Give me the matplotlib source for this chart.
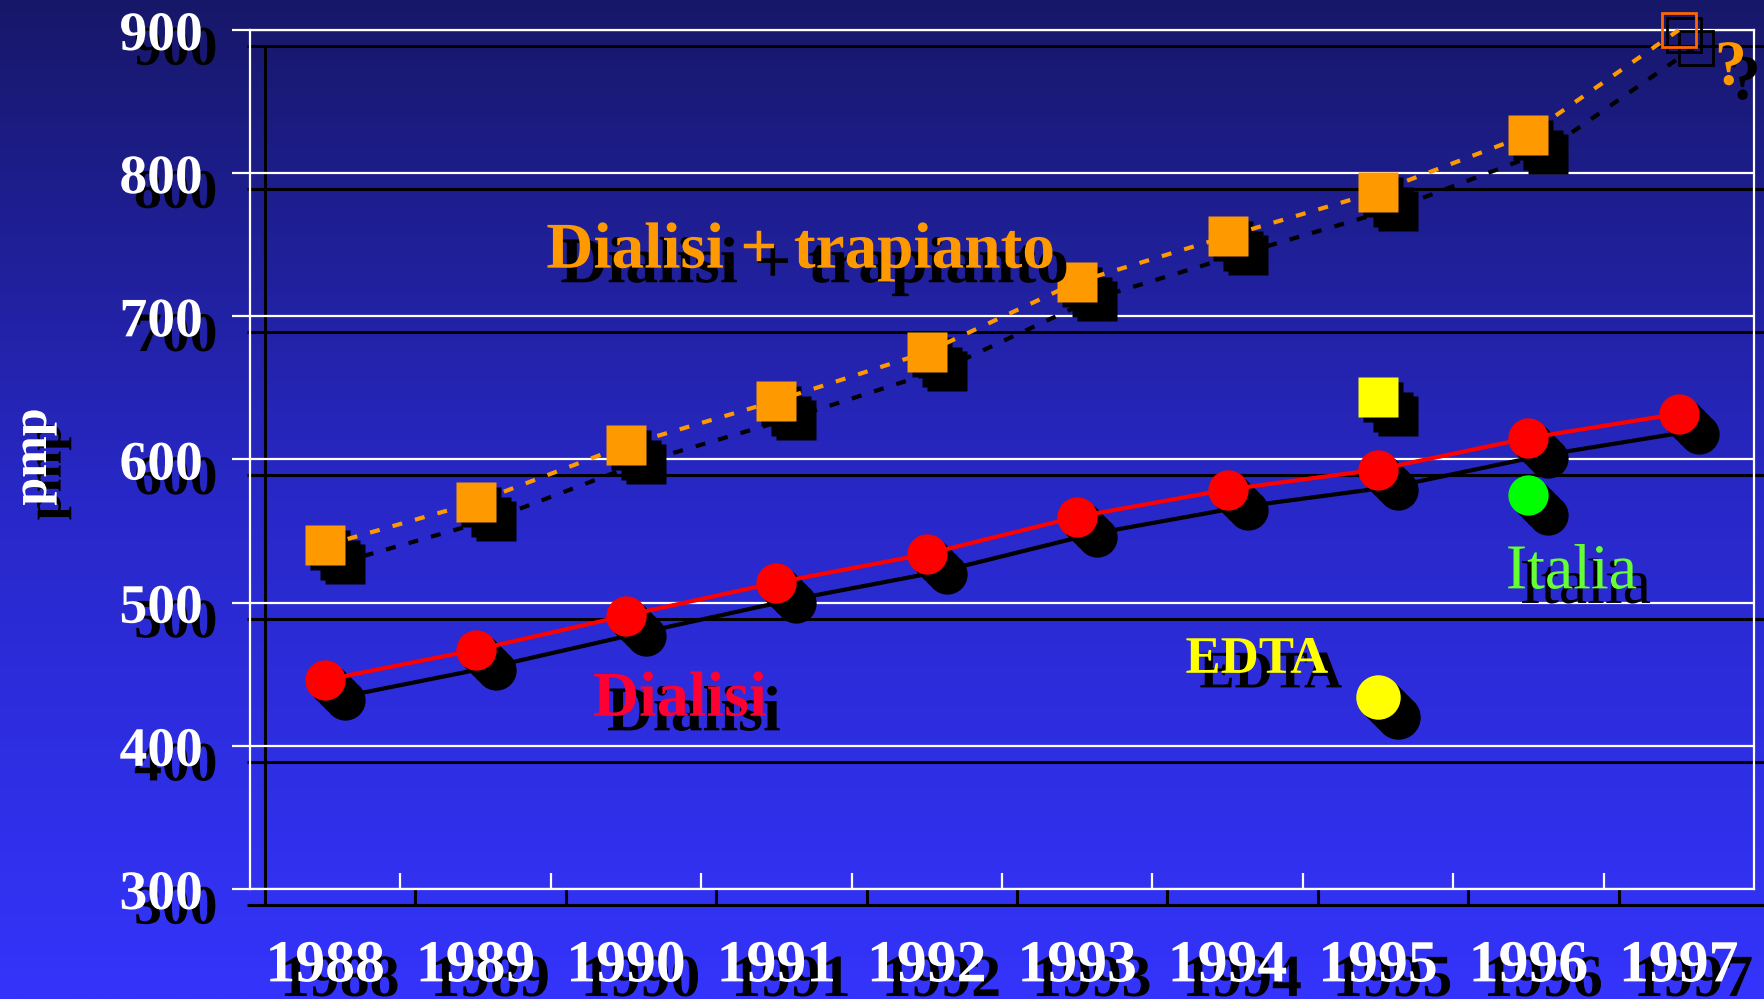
import numpy as np
import matplotlib as mpl
mpl.use('Agg')
import matplotlib.pyplot as plt
import matplotlib.patheffects as pe
from matplotlib.transforms import offset_copy

# ---- data ----
years = ['1988', '1989', '1990', '1991', '1992', '1993', '1994', '1995', '1996', '1997']
dial_trap = [540, 570, 610, 641, 675, 724, 756, 787, 827, 900]   # 1997 = projection (hollow)
dialisi = [446, 467, 491, 514, 534, 560, 579, 593, 615, 632]
edta_year = 7          # index of 1995
edta_dial_trap = 644
edta_dialisi = 434
italia_year = 8        # index of 1996
italia_dialisi = 575
yticks = [300, 400, 500, 600, 700, 800, 900]

W, H = 1765, 999
FONT = 'Liberation Serif'

fig = plt.figure(figsize=(W / 100, H / 100), dpi=100)

# background gradient, dark navy at top to bright blue at bottom
bg = fig.add_axes([0, 0, 1, 1], zorder=-10)
t = np.linspace(0, 1, 400)[:, None]
top = np.array([23, 23, 105]) / 255
mid = np.array([40, 40, 200]) / 255
bot = np.array([52, 52, 252]) / 255
grad = np.where(t < 0.5, top + (mid - top) * (t / 0.5), mid + (bot - mid) * ((t - 0.5) / 0.5))
bg.imshow(grad[:, None, :].repeat(2, axis=1), aspect='auto', extent=[0, 1, 0, 1])
bg.axis('off')


def frac(l, t, r, b):
    return [l / W, 1 - b / H, (r - l) / W, (b - t) / H]


L, T, R, B = 250, 30, 1754, 889
sh = fig.add_axes(frac(L + 15, T + 16, R + 15, B + 16), zorder=0)   # black "shadow" frame
ax = fig.add_axes(frac(L, T, R, B), zorder=1)

for a, col, lw in [(sh, 'black', 2.2), (ax, 'white', 1.6)]:
    a.set_facecolor('none')
    a.set_xlim(-0.5, 9.5)
    a.set_ylim(300, 900)
    for s in a.spines.values():
        s.set_color(col)
        s.set_linewidth(lw)
    a.set_yticks(yticks)
    a.yaxis.grid(True, color=col, lw=lw)
    a.tick_params(axis='y', direction='out', length=13, width=lw, color=col)
    a.set_xticks(range(10))
    a.set_xticks(np.arange(0.5, 9.5, 1), minor=True)
    a.tick_params(axis='x', which='major', length=0)
    a.tick_params(axis='x', which='minor', direction='in', length=11.5, width=lw, color=col)
    a.set_axisbelow(True)

sh.set_xticklabels([])
sh.set_yticklabels([])

ax.set_xticklabels(years)
ax.tick_params(axis='x', which='major', pad=37)
ax.tick_params(axis='y', pad=21)
lab_fx = [pe.withSimplePatchShadow(offset=(10.5, -10.5), shadow_rgbFace='black', alpha=1.0)]
for lab in ax.get_xticklabels():
    lab.set_fontfamily(FONT)
    lab.set_fontweight('bold')
    lab.set_fontsize(43)
    lab.set_color('white')
    lab.set_path_effects(lab_fx)
for lab in ax.get_yticklabels():
    lab.set_fontfamily(FONT)
    lab.set_fontweight('bold')
    lab.set_fontsize(40)
    lab.set_color('white')
    lab.set_path_effects(lab_fx)


def shifted(dx, dy):
    return offset_copy(ax.transData, fig=fig, x=dx, y=-dy, units='dots')


x = np.arange(len(years))
MS = 29
dash = (2.4, 3.2)

# ---- shadows ----
ax.plot(x, dial_trap, color='black', lw=3, dashes=dash, transform=shifted(16, 17),
        clip_on=False, zorder=2)
ax.plot(x, dialisi, color='black', lw=3, transform=shifted(16, 17), clip_on=False, zorder=2)
for d in (5, 10, 15, 20):
    tr = shifted(d, d)
    ax.plot(x, dialisi, 'o', ms=MS, color='black', mec='none', transform=tr, clip_on=False, zorder=3)
    ax.plot([edta_year], [edta_dialisi], 'o', ms=MS + 3, color='black', mec='none', transform=tr,
            clip_on=False, zorder=3)
    ax.plot([italia_year], [italia_dialisi], 'o', ms=MS, color='black', mec='none', transform=tr,
            clip_on=False, zorder=3)
for dx, dy in ((5, 5), (15, 15), (20, 19)):
    tr = shifted(dx, dy)
    ax.plot(x[:-1], dial_trap[:-1], 's', ms=MS, color='black', mec='none', transform=tr,
            clip_on=False, zorder=3)
    ax.plot([edta_year], [edta_dial_trap], 's', ms=MS, color='black', mec='none', transform=tr,
            clip_on=False, zorder=3)
for dx, dy in ((5, 5), (17, 18)):
    ax.plot(x[-1:], dial_trap[-1:], 's', ms=25, mfc='none', mec='black', mew=2,
            transform=shifted(dx, dy), clip_on=False, zorder=3)

# ---- coloured series ----
ax.plot(x, dial_trap, color='#ff9900', lw=3, dashes=dash, clip_on=False, zorder=4)
ax.plot(x, dialisi, color='#ff0000', lw=3, clip_on=False, zorder=4)
ax.plot(x[:-1], dial_trap[:-1], 's', ms=MS, color='#ff9900', mec='none', clip_on=False, zorder=5)
ax.plot(x[-1:], dial_trap[-1:], 's', ms=25, mfc='none', mec='#ff6600', mew=2, clip_on=False, zorder=5)
ax.plot(x, dialisi, 'o', ms=MS, color='#ff0000', mec='none', clip_on=False, zorder=5)
ax.plot([edta_year], [edta_dial_trap], 's', ms=MS, color='#ffff00', mec='none', clip_on=False, zorder=5)
ax.plot([edta_year], [edta_dialisi], 'o', ms=MS + 3, color='#ffff00', mec='none', clip_on=False, zorder=5)
ax.plot([italia_year], [italia_dialisi], 'o', ms=MS, color='#00ff00', mec='none', clip_on=False, zorder=5)

# ---- annotations ----
txt_fx = [pe.withSimplePatchShadow(offset=(10, -10.5), shadow_rgbFace='black', alpha=1.0)]
ax.text(1.47, 734, 'Dialisi + trapianto', color='#ff9900', fontsize=47, fontweight='bold',
        family=FONT, va='baseline', ha='left', path_effects=txt_fx, zorder=6)
ax.text(1.78, 421, 'Dialisi', color='#ff0033', fontsize=46, fontweight='bold',
        family=FONT, va='baseline', ha='left', path_effects=txt_fx, zorder=6)
ax.text(5.72, 451, 'EDTA', color='#ffff00', fontsize=38, fontweight='bold',
        family=FONT, va='baseline', ha='left', path_effects=txt_fx, zorder=6)
ax.text(7.85, 510, 'Italia', color='#66ff33', fontsize=46,
        family=FONT, va='baseline', ha='left', path_effects=txt_fx, zorder=6)
ax.text(9.24, 862, '?', color='#ff9900', fontsize=46, fontweight='bold',
        family=FONT, va='baseline', ha='left', path_effects=txt_fx, zorder=6, clip_on=False)

fig.text(34 / W, 1 - 457 / H, 'pmp', color='white', fontsize=36, fontweight='bold', family=FONT,
         rotation=90, ha='center', va='center', path_effects=lab_fx)

fig.savefig('out.png', dpi=100)
